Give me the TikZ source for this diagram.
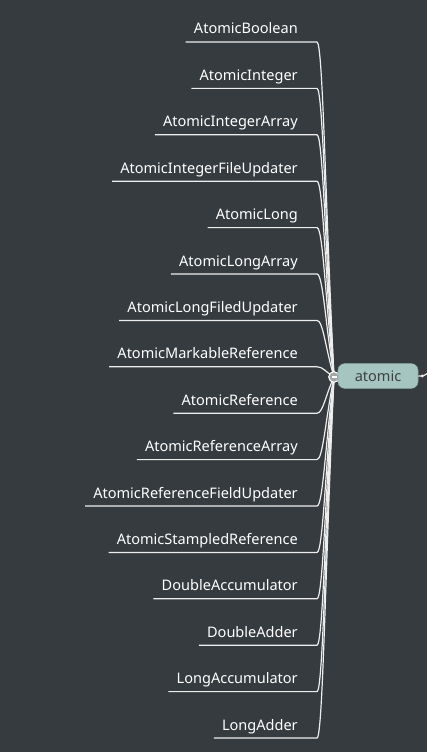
\documentclass[tikz,border=0pt]{standalone}
\usepackage{fontspec}
\setmainfont{Noto Sans}
\usetikzlibrary{calc}
\definecolor{bgcol}{HTML}{363B3F}
\definecolor{rootcol}{HTML}{A5C6C0}
\definecolor{rootedge}{HTML}{88ABA4}
\definecolor{linecol}{HTML}{EDEDED}
\begin{document}
\begin{tikzpicture}[x=0.75pt,y=-0.75pt,
        leaf/.style={text=white, font=\fontsize{10.9}{13}\selectfont, anchor=base east, inner xsep=6pt, inner ysep=0pt},
        branch/.style={draw=linecol, line width=0.9pt}]
    \fill[bgcol] (0,0) rectangle (427,752);
    \useasboundingbox (0,0) rectangle (427,752);
    \coordinate (hub) at (334,377);
    % leaves on the left
    \foreach \name [count=\i from 0] in {AtomicBoolean, AtomicInteger, AtomicIntegerArray,
            AtomicIntegerFileUpdater, AtomicLong, AtomicLongArray, AtomicLongFiledUpdater,
            AtomicMarkableReference, AtomicReference, AtomicReferenceArray,
            AtomicReferenceFieldUpdater, AtomicStampledReference, DoubleAccumulator,
            DoubleAdder, LongAccumulator, LongAdder} {
        \coordinate (c\i) at (317,42+46.4*\i);
        \node[leaf] (l\i) at ($(c\i)+(-11,-8)$) {\name};
        \draw[branch] (l\i.west |- c\i) -- (c\i)
            .. controls +(6,0) and ($(hub)!0.5!(c\i)$) .. (hub);
    }
    % collapse button and root
    \node[circle, draw=white, fill=gray!70, line width=0.8pt, minimum size=8pt, inner sep=0pt] (btn) at (hub) {};
    \draw[white, line width=0.8pt] ($(btn)+(-2.5,0)$) -- ($(btn)+(2.5,0)$);
    \node[draw=rootedge, fill=rootcol, rounded corners=5pt, minimum width=60pt, minimum height=18.5pt,
        text=black!75, font=\fontsize{10.9}{13}\selectfont] (root) at (378,376) {atomic};
    \coordinate (up) at (430,371);
    \fill[linecol] ($(root.east)+(4,0)$) circle (1.6);
    \draw[branch] (root.east) .. controls +(6,0) .. (up);
\end{tikzpicture}
\end{document}
